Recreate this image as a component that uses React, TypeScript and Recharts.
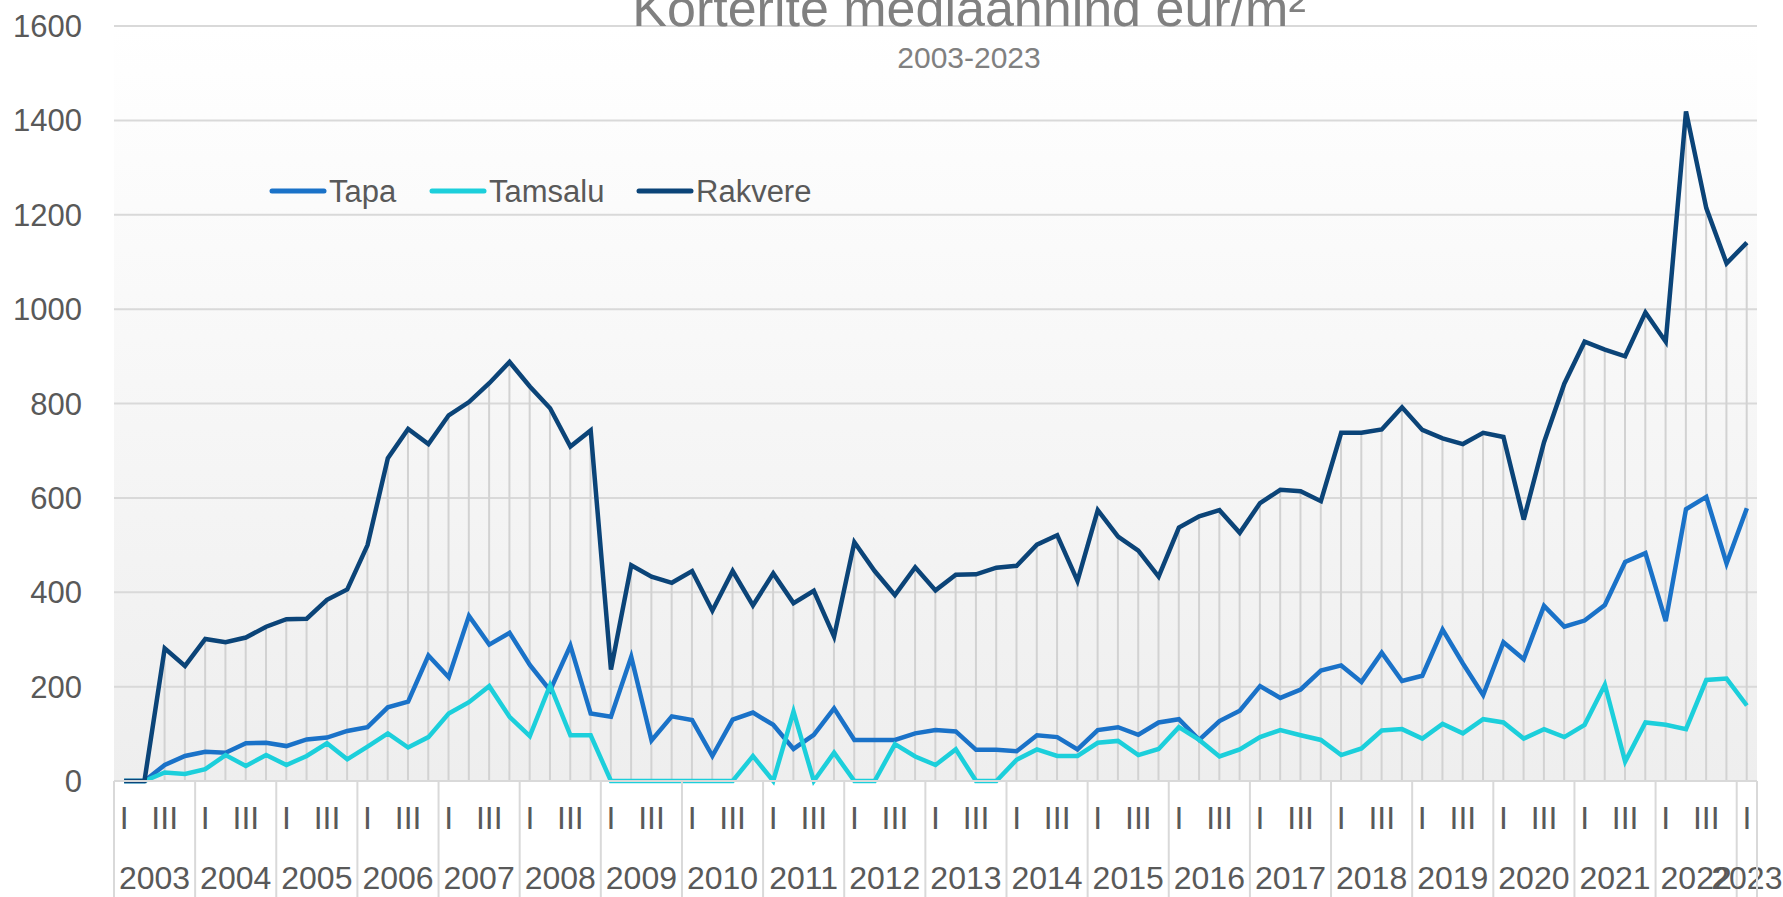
import React from "react";
import { ComposedChart, Bar, Line, XAxis, YAxis, CartesianGrid } from "recharts";

const years = [
  2003, 2004, 2005, 2006, 2007, 2008, 2009, 2010, 2011, 2012, 2013, 2014, 2015,
  2016, 2017, 2018, 2019, 2020, 2021, 2022, 2023,
];
const quarterNames = ["I", "II", "III", "IV"];
const shownQuarters = ["I", "III"];

// 2003 I .. 2023 I
const tapa = [
  0, 0, 34, 53, 62, 60, 80, 81, 74, 88, 92, 106, 114, 156, 168, 266, 220, 350,
  289, 314, 246, 192, 287, 143, 136, 263, 86, 137, 129, 53, 130, 145, 119, 68,
  98, 154, 87, 87, 87, 101, 108, 105, 66, 66, 63, 97, 93, 67, 108, 114, 98, 124,
  131, 87, 127, 149, 201, 176, 194, 234, 245, 210, 272, 212, 223, 321, 249, 182,
  294, 258, 371, 327, 340, 373, 464, 483, 339, 576, 602, 461, 578,
];
const tamsalu = [
  0, 0, 18, 15, 25, 55, 32, 55, 34, 53, 80, 46, 73, 101, 71, 93, 143, 167, 201,
  136, 95, 203, 97, 97, 0, 0, 0, 0, 0, 0, 0, 53, 0, 147, 0, 60, 0, 0, 78, 52, 34,
  67, 0, 0, 45, 67, 53, 53, 81, 85, 55, 68, 114, 87, 52, 67, 93, 108, 97, 87, 55,
  69, 107, 110, 90, 121, 101, 131, 124, 90, 110, 93, 119, 204, 41, 124, 119, 110,
  214, 217, 160,
];
const rakvere = [
  0, 0, 281, 244, 301, 294, 304, 327, 343, 344, 384, 406, 500, 684, 746, 714,
  775, 803, 843, 888, 836, 790, 709, 743, 236, 457, 433, 420, 445, 361, 445, 372,
  440, 377, 403, 306, 506, 445, 394, 453, 404, 437, 438, 452, 456, 501, 521, 424,
  574, 518, 488, 433, 537, 561, 574, 526, 589, 617, 614, 593, 738, 738, 745, 792,
  744, 726, 714, 738, 729, 554, 718, 842, 931, 914, 900, 993, 931, 1419, 1214,
  1097, 1141,
];
const yTicks = [0, 200, 400, 600, 800, 1000, 1200, 1400, 1600];

const series = [
  { key: "Tapa", values: tapa, color: "#1A72C8" },
  { key: "Tamsalu", values: tamsalu, color: "#1CCFDB" },
  { key: "Rakvere", values: rakvere, color: "#0B4478" },
];

const data = tapa.map((_, i) => {
  const row: any = {
    name: `${years[Math.floor(i / 4)]} ${quarterNames[i % 4]}`,
    year: years[Math.floor(i / 4)],
    q: quarterNames[i % 4],
  };
  series.forEach((s) => (row[s.key] = s.values[i]));
  return row;
});

const W = 1783;
const H = 897;
const LEFT = 114;
const RIGHT = 26;
const TOP = 26;
const AXIS_H = 116;
const band = (W - LEFT - RIGHT) / data.length;
const FONT = '"Liberation Sans", Arial, sans-serif';
const TEXT = "#595959";
const LINE_GRAY = "#d9d9d9";

const XTick = (props: any) => {
  const { x, y, payload } = props;
  const i = payload.index;
  const d = data[i];
  const inYear = data.filter((r) => r.year === d.year).length;
  return (
    <g>
      {shownQuarters.includes(d.q) && (
        <text x={x} y={y + 25} dy="0.71em" textAnchor="middle" fill={TEXT} fontSize={32} fontFamily={FONT}>
          {d.q}
        </text>
      )}
      {d.q === "I" && (
        <>
          <line x1={x - band / 2} x2={x - band / 2} y1={y} y2={y + AXIS_H} stroke={LINE_GRAY} strokeWidth={2} />
          <text
            x={x - band / 2 + (inYear * band) / 2}
            y={y + 85}
            dy="0.71em"
            textAnchor="middle"
            fill={TEXT}
            fontSize={32}
            fontFamily={FONT}
          >
            {d.year}
          </text>
        </>
      )}
      {i === data.length - 1 && (
        <line x1={x + band / 2} x2={x + band / 2} y1={y} y2={y + AXIS_H} stroke={LINE_GRAY} strokeWidth={2} />
      )}
    </g>
  );
};

const legendX = [272, 432, 639];

export default function App() {
  return (
    <div style={{ position: "absolute", left: 0, top: 0, width: W, height: H, background: "#fff" }}>
      <ComposedChart
        width={W}
        height={H}
        data={data}
        margin={{ top: TOP, right: RIGHT, bottom: 0, left: 0 }}
        barCategoryGap={0}
      >
        <defs>
          <linearGradient id="bgGrad" x1="0" y1="0" x2="0" y2="1">
            <stop offset="0%" stopColor="#ffffff" />
            <stop offset="100%" stopColor="#eeeeee" />
          </linearGradient>
        </defs>
        <CartesianGrid vertical={false} stroke={LINE_GRAY} strokeWidth={2} fill="url(#bgGrad)" fillOpacity={1} />
        <XAxis
          dataKey="name"
          interval={0}
          height={AXIS_H}
          tickSize={0}
          tickMargin={0}
          axisLine={{ stroke: LINE_GRAY, strokeWidth: 2 }}
          tickLine={false}
          tick={<XTick />}
        />
        <YAxis
          domain={[0, 1600]}
          ticks={yTicks}
          width={LEFT}
          axisLine={false}
          tickLine={false}
          tickSize={0}
          tickMargin={32}
          tick={{ fill: TEXT, fontSize: 31, fontFamily: FONT }}
        />
        <Bar dataKey="Rakvere" barSize={2} fill="#d2d2d2" isAnimationActive={false} legendType="none" />
        {series.map((s) => (
          <Line
            key={s.key}
            type="linear"
            dataKey={s.key}
            stroke={s.color}
            strokeWidth={4.5}
            dot={false}
            activeDot={false}
            isAnimationActive={false}
          />
        ))}
      </ComposedChart>
      <svg width={W} height={H} style={{ position: "absolute", left: 0, top: 0, pointerEvents: "none" }}>
        <text x={969} y={26} textAnchor="middle" fill="#808080" fontSize={52} fontFamily={FONT}>
          Korterite mediaanhind eur/m²
        </text>
        <text x={969} y={68} textAnchor="middle" fill="#808080" fontSize={30} fontFamily={FONT}>
          2003-2023
        </text>
        {series.map((s, k) => (
          <g key={s.key}>
            <line x1={legendX[k]} x2={legendX[k] + 52} y1={191} y2={191} stroke={s.color} strokeWidth={5} strokeLinecap="round" />
            <text x={legendX[k] + 57} y={191} dy="0.36em" fill={TEXT} fontSize={31} fontFamily={FONT}>
              {s.key}
            </text>
          </g>
        ))}
      </svg>
    </div>
  );
}
